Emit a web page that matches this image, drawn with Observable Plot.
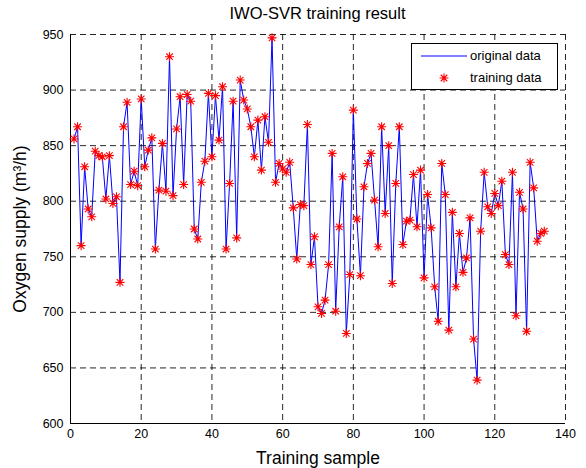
<!DOCTYPE html>
<html>
<head>
<meta charset="utf-8">
<script src="https://cdn.jsdelivr.net/npm/d3@7"></script>
<script src="https://cdn.jsdelivr.net/npm/@observablehq/plot@0.6"></script>
<style>
  html, body { margin: 0; padding: 0; background: #fff; }
  body { width: 586px; height: 468px; position: relative; overflow: hidden; font-family: "Liberation Sans", Arial, sans-serif; }
  #title { position: absolute; left: 70px; width: 495px; top: 4px; text-align: center; font-size: 16.5px; color: #000; }
  #chart { position: absolute; left: 0; top: 28px; }
  #legend { position: absolute; left: 411px; top: 43px; width: 145px; height: 45px; border: 1px solid #000; background: #fff; }
  #legend .row { position: absolute; left: 0; height: 20px; font-size: 13px; line-height: 20px; }
  #legend svg { position: absolute; left: 0; top: 0; }
  #legend span { position: absolute; left: 58px; white-space: nowrap; }
  svg g[aria-label="x-axis label"], svg g[aria-label="y-axis label"] { font-size: 17.5px; }
</style>
</head>
<body>
<div id="title">IWO-SVR training result</div>
<div id="chart"></div>
<div id="legend">
  <div class="row" style="top:2px;width:145px">
    <svg width="56" height="20"><line x1="9" x2="55" y1="10" y2="10" stroke="#0000ff" stroke-width="1"/></svg>
    <span>original data</span>
  </div>
  <div class="row" style="top:24px;width:145px">
    <svg width="56" height="20" id="legstar"></svg>
    <span>training data</span>
  </div>
</div>
<script>
// Oxygen supply (m3/h) for training samples 1..134
const oxygenSupply = [
  856, 867, 760, 831, 793, 786, 845, 841, 840, 802,
  841, 798, 804, 727, 867, 889, 815, 827, 814, 892,
  831, 846, 857, 757, 810, 852, 809, 930, 805, 865,
  894, 815, 896, 890, 775, 766, 817, 836, 897, 840,
  895, 855, 903, 757, 816, 890, 767, 909, 891, 883,
  867, 840, 873, 828, 876, 853, 947, 817, 834, 829,
  826, 835, 794, 748, 797, 796, 869, 743, 768, 705,
  699, 711, 743, 843, 701, 777, 822, 681, 734, 882,
  784, 733, 813, 834, 843, 801, 759, 867, 789, 850,
  726, 816, 867, 761, 782, 783, 824, 777, 828, 731,
  806, 776, 723, 692, 834, 806, 684, 790, 723, 771,
  736, 749, 785, 676, 639, 773, 826, 795, 789, 807,
  796, 818, 752, 743, 826, 697, 808, 793, 683, 835,
  812, 764, 771, 773
];
const xTicks = [0, 20, 40, 60, 80, 100, 120, 140];
const yTicks = [600, 650, 700, 750, 800, 850, 900, 950];

const data = oxygenSupply.map((v, i) => ({sample: i + 1, supply: v}));

// MATLAB-like "*" marker: plus + cross
const asterisk = {
  draw(ctx, size) {
    const r = Math.sqrt(size / Math.PI);
    const d = r * 0.72;
    ctx.moveTo(-r, 0); ctx.lineTo(r, 0);
    ctx.moveTo(0, -r); ctx.lineTo(0, r);
    ctx.moveTo(-d, -d); ctx.lineTo(d, d);
    ctx.moveTo(-d, d); ctx.lineTo(d, -d);
  }
};

const chart = Plot.plot({
  width: 586,
  height: 440,
  marginLeft: 70,
  marginRight: 21,
  marginTop: 6,
  marginBottom: 45,
  style: {fontFamily: '"Liberation Sans", Arial, sans-serif', fontSize: "12.5px", color: "#000", background: "#fff"},
  x: {domain: [0, 140]},
  y: {domain: [600, 950]},
  marks: [
    Plot.gridX(xTicks, {stroke: "#000", strokeOpacity: 0.85, strokeWidth: 1, strokeDasharray: "6,4"}),
    Plot.gridY(yTicks, {stroke: "#000", strokeOpacity: 0.85, strokeWidth: 1, strokeDasharray: "6,4"}),
    Plot.ruleX([0], {stroke: "#000", strokeWidth: 1}),
    Plot.ruleY([600], {stroke: "#000", strokeWidth: 1}),
    Plot.axisX({ticks: xTicks, tickSize: 0, tickPadding: 6, label: "Training sample", labelAnchor: "center", labelArrow: "none", labelOffset: 40}),
    Plot.axisY({ticks: yTicks, tickSize: 0, tickPadding: 7, label: "Oxygen supply (m³/h)", labelAnchor: "center", labelArrow: "none", labelOffset: 57}),
    Plot.line(data, {x: "sample", y: "supply", stroke: "#0000ff", strokeWidth: 1}),
    Plot.dot(data, {x: "sample", y: "supply", symbol: asterisk, r: 4.5, stroke: "#ff0000", strokeWidth: 1.1, fill: "none"})
  ]
});
document.getElementById("chart").appendChild(chart);

// legend marker drawn with the same symbol
const p = d3.path();
asterisk.draw(p, 4.5 * 4.5 * Math.PI);
d3.select("#legstar").append("path")
  .attr("transform", "translate(32,10)")
  .attr("d", p.toString())
  .attr("stroke", "#ff0000").attr("stroke-width", 1.1).attr("fill", "none");
</script>
</body>
</html>
